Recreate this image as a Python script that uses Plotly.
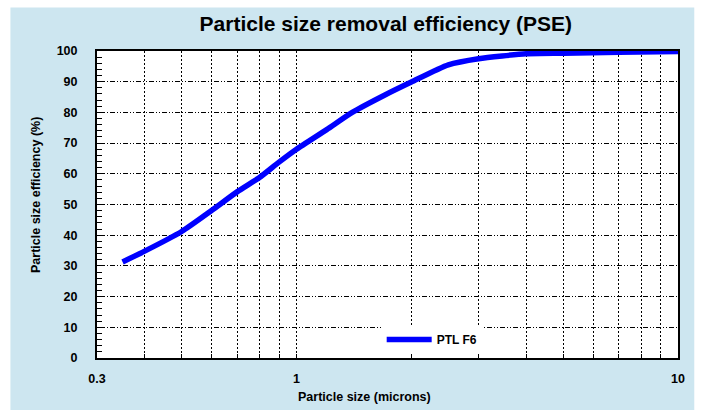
import plotly.graph_objects as go

# ---- data ----
particle_size = [0.35, 0.4, 0.5, 0.6, 0.7, 0.8, 0.9, 1.0, 1.2, 1.4, 1.7, 2.0, 2.5, 3.0, 4.0, 5.0, 7.0, 10.0]
efficiency = [31.3, 34.8, 41.2, 48.1, 54.2, 58.8, 63.8, 68.0, 74.4, 80.0, 85.6, 89.9, 95.5, 97.5, 99.1, 99.3, 99.6, 99.8]
series_name = "PTL F6"

x_tick_vals = [0.3, 0.4, 0.5, 0.6, 0.7, 0.8, 0.9, 1, 2, 3, 4, 5, 6, 7, 8, 9, 10]
x_tick_text = ["0.3", "", "", "", "", "", "", "1", "", "", "", "", "", "", "", "", "10"]
y_tick_vals = [0, 10, 20, 30, 40, 50, 60, 70, 80, 90, 100]

FONT = "Arial, 'Liberation Sans', sans-serif"
PANEL = "#cde6f0"

fig = go.Figure()
fig.add_trace(go.Scatter(
    x=particle_size, y=efficiency, mode="lines", name=f"<b>{series_name}</b>",
    line=dict(color="#0000ff", width=5.5, shape="spline", smoothing=0.6),
))

# light-blue panel behind everything, and white plot area on top of it
fig.add_shape(type="rect", xref="paper", yref="paper", x0=-0.149, x1=1.028, y0=-0.169, y1=1.142,
              fillcolor=PANEL, line=dict(width=0), layer="below")
fig.add_shape(type="rect", xref="paper", yref="paper", x0=0, x1=1, y0=0, y1=1,
              fillcolor="white", line=dict(width=0), layer="below")

fig.update_layout(
    width=704, height=417,
    margin=dict(l=97, r=26, t=51, b=59),
    paper_bgcolor="white", plot_bgcolor="rgba(0,0,0,0)",
    font=dict(family=FONT, color="black", size=12),
    title=dict(text="<b>Particle size removal efficiency (PSE)</b>", x=0.548, xanchor="center",
               y=0.943, yanchor="middle", font=dict(size=21, family=FONT)),
    showlegend=True,
    legend=dict(x=0.49, y=0.06, xanchor="left", yanchor="middle", bgcolor="white",
                font=dict(size=12, family=FONT), itemwidth=45, borderwidth=0),
    annotations=[
        dict(text="<b>Particle size (microns)</b>", xref="paper", yref="paper",
             x=(364 - 97) / 581, y=-0.127, xanchor="center", yanchor="middle",
             showarrow=False, font=dict(size=12.5, family=FONT)),
        dict(text="<b>Particle size efficiency (%)</b>", xref="paper", yref="paper",
             x=(36 - 97) / 581, y=(358 - 195) / 307, xanchor="center", yanchor="middle",
             textangle=-90, showarrow=False, font=dict(size=12.5, family=FONT)),
    ],
)

fig.update_xaxes(
    type="log", range=[-0.5229, 1.0],
    tickmode="array", tickvals=x_tick_vals,
    ticktext=[f"<b>{t}</b>" if t else "" for t in x_tick_text],
    ticks="inside", ticklen=4, tickcolor="black", tickwidth=1,
    showgrid=True, gridcolor="black", gridwidth=1, griddash="2px,2px",
    showline=True, linecolor="black", linewidth=2, mirror=True,
    tickfont=dict(size=12.5, family=FONT), ticklabelstandoff=8,
    zeroline=False,
)
fig.update_yaxes(
    range=[0, 100], tickmode="array", tickvals=y_tick_vals,
    ticktext=[f"<b>{v}</b>" for v in y_tick_vals],
    ticks="inside", ticklen=8, tickcolor="black", tickwidth=1,
    minor=dict(dtick=2, ticks="inside", ticklen=5, tickcolor="black", showgrid=False),
    showgrid=True, gridcolor="black", gridwidth=1, griddash="5px,2px,1px,2px,1px,2px",
    showline=True, linecolor="black", linewidth=2, mirror=True,
    tickfont=dict(size=12.5, family=FONT), ticklabelstandoff=15,
    zeroline=False,
)

fig.write_html("out.html", config={"displayModeBar": False},
               post_script="document.body.style.margin='0px';document.body.style.overflow='hidden';")
